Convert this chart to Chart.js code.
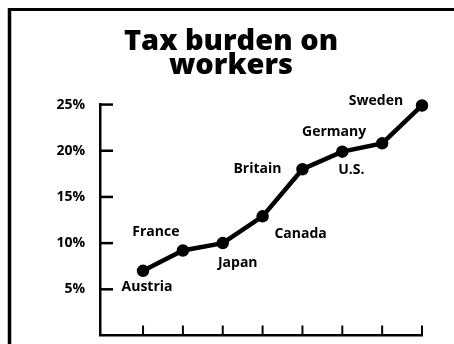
<!DOCTYPE html>
<html>
<head>
<meta charset="utf-8">
<script src="https://cdn.jsdelivr.net/npm/chart.js@4/dist/chart.umd.min.js"></script>
<style>
  html, body { margin: 0; padding: 0; background: #fff; }
  #wrap { width: 454px; height: 344px; }
</style>
</head>
<body>
<div id="wrap"><canvas id="taxChart" width="454" height="344"></canvas></div>
<script>
const countries = ['Austria', 'France', 'Japan', 'Canada', 'Britain', 'U.S.', 'Germany', 'Sweden'];
const taxShare = [7.0, 9.2, 10.0, 12.9, 18.0, 19.9, 20.8, 24.9];
const yTicks = [5, 10, 15, 20, 25];

const FONT = "'Open Sans', 'Noto Sans', sans-serif";

// where each country name sits relative to its point (dx, dy)
const nameOffsets = [
  [4, 16], [-27, -18], [15, 20], [38, 18],
  [-45, 0], [9, 18], [-48, -11], [-46, -4]
];

// page frame: heavy rule on the left and along the top
const framePlugin = {
  id: 'frame',
  beforeDraw(chart) {
    const c = chart.ctx;
    c.save();
    c.fillStyle = '#fff';
    c.fillRect(0, 0, chart.width, chart.height);
    c.strokeStyle = '#000';
    c.lineWidth = 3.5;
    c.beginPath();
    c.moveTo(9.5, 8);
    c.lineTo(9.5, chart.height);
    c.stroke();
    c.lineWidth = 3;
    c.beginPath();
    c.moveTo(8, 9.5);
    c.lineTo(chart.width, 9.5);
    c.stroke();
    c.restore();
  }
};

// short tick marks pointing into the plot from both axes
const innerTicks = {
  id: 'innerTicks',
  afterDraw(chart) {
    const c = chart.ctx;
    const xs = chart.scales.x, ys = chart.scales.y;
    const area = chart.chartArea;
    c.save();
    c.strokeStyle = '#000';
    c.lineWidth = 2.5;
    yTicks.forEach(v => {
      const py = ys.getPixelForValue(v);
      c.beginPath();
      c.moveTo(area.left, py);
      c.lineTo(area.left + 13, py);
      c.stroke();
    });
    c.lineWidth = 2;
    countries.forEach((_, i) => {
      const px = xs.getPixelForValue(i);
      c.beginPath();
      c.moveTo(px, area.bottom);
      c.lineTo(px, area.bottom - 10);
      c.stroke();
    });
    c.restore();
  }
};

// country names next to their points
const pointNames = {
  id: 'pointNames',
  afterDatasetsDraw(chart) {
    const c = chart.ctx;
    const meta = chart.getDatasetMeta(0);
    c.save();
    c.fillStyle = '#000';
    c.font = `bold 14px ${FONT}`;
    c.textAlign = 'center';
    c.textBaseline = 'middle';
    meta.data.forEach((pt, i) => {
      const [dx, dy] = nameOffsets[i];
      c.fillText(countries[i], pt.x + dx, pt.y + dy);
    });
    c.restore();
  }
};

const ctx = document.getElementById('taxChart').getContext('2d');

new Chart(ctx, {
  type: 'line',
  data: {
    datasets: [{
      data: taxShare.map((v, i) => ({ x: i, y: v })),
      borderColor: '#000',
      backgroundColor: '#000',
      borderWidth: 4.5,
      pointRadius: 4,
      pointHoverRadius: 4,
      tension: 0,
      clip: false
    }]
  },
  options: {
    responsive: false,
    animation: false,
    events: [],
    layout: { padding: { left: 40, right: 32, bottom: -1, top: 0 } },
    plugins: {
      legend: { display: false },
      tooltip: { enabled: false },
      title: {
        display: true,
        text: ['Tax burden on', 'workers'],
        color: '#000',
        font: { family: FONT, size: 29, weight: 800, lineHeight: 0.82 },
        padding: { top: 30, bottom: 27 }
      }
    },
    scales: {
      x: {
        type: 'linear',
        min: -1.08,
        max: countries.length - 1,
        afterFit(scale) {
          scale.height = 0;
        },
        grid: { display: false, drawTicks: false },
        ticks: { display: false },
        border: { display: true, color: '#000', width: 2.5 }
      },
      y: {
        min: 0,
        max: 25,
        afterBuildTicks(scale) {
          scale.ticks = yTicks.map(v => ({ value: v }));
        },
        afterFit(scale) {
          scale.width = 60;
          scale.paddingTop = 0;
          scale.paddingBottom = 0;
        },
        grid: { display: false, drawTicks: false },
        border: { display: true, color: '#000', width: 2.5 },
        ticks: {
          padding: 15,
          color: '#000',
          font: { family: FONT, size: 14, weight: 'bold' },
          callback: v => v + '%'
        }
      }
    }
  },
  plugins: [framePlugin, innerTicks, pointNames]
});
</script>
</body>
</html>
